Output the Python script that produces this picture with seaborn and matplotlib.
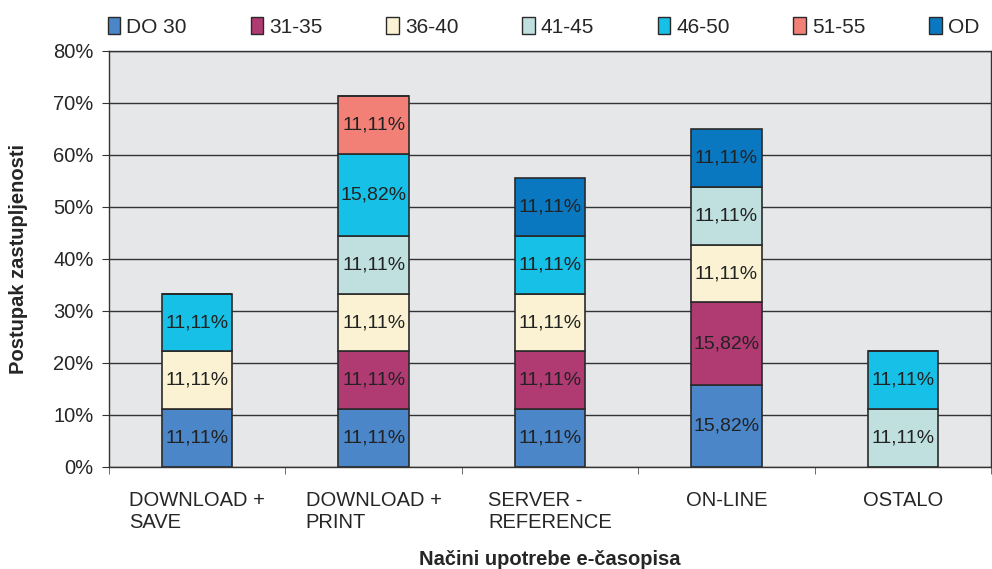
import pandas as pd
import matplotlib
matplotlib.use("Agg")
import matplotlib.pyplot as plt
from matplotlib.patches import Patch
from matplotlib.ticker import FuncFormatter, FixedLocator
import seaborn as sns

categories = ['DOWNLOAD +\nSAVE', 'DOWNLOAD +\nPRINT', 'SERVER -\nREFERENCE', 'ON-LINE', 'OSTALO']
groups = ['DO 30', '31-35', '36-40', '41-45', '46-50', '51-55', 'OD']
colors = ['#4a86c8', '#b03a72', '#faf2d2', '#c0e0e0', '#16c0e6', '#f28076', '#0a78c0']

# percentage per category, one list per age group (0 = no bar segment)
do30 = [11.11, 11.11, 11.11, 15.82, 0]
g31_35 = [0, 11.11, 11.11, 15.82, 0]
g36_40 = [11.11, 11.11, 11.11, 11.11, 0]
g41_45 = [0, 11.11, 0, 11.11, 11.11]
g46_50 = [11.11, 15.82, 11.11, 0, 11.11]
g51_55 = [0, 11.11, 0, 0, 0]
od = [0, 0, 11.11, 11.11, 0]

series = [do30, g31_35, g36_40, g41_45, g46_50, g51_55, od]

rows = []
for i, cat in enumerate(categories):
    for g, vals in zip(groups, series):
        rows.append({'cat': cat, 'group': g, 'val': vals[i]})
df = pd.DataFrame(rows)

sns.set_style('white')
plt.rcParams['font.family'] = ['Liberation Sans', 'DejaVu Sans']

fig = plt.figure(figsize=(9.92, 5.69), dpi=100)
ax = fig.add_axes([109 / 992, 1 - 467 / 569, 882 / 992, 416 / 569])
ax.set_facecolor('#e6e7e9')

# histplot stacks the first hue level on top, so reverse the order
sns.histplot(data=df, x='cat', hue='group', weights='val', hue_order=groups[::-1],
             multiple='stack', discrete=True, shrink=0.4,
             palette=dict(zip(groups, colors)), alpha=1,
             edgecolor='#2a2a2a', linewidth=1.2, legend=False, ax=ax)

for p in ax.patches:
    h = p.get_height()
    if h > 0.01:
        ax.text(p.get_x() + p.get_width() / 2, p.get_y() + h / 2,
                f'{h:.2f}'.replace('.', ',') + '%', ha='center', va='center',
                fontsize=14, color='#222222')

ax.set_ylim(0, 80)
ax.set_xlim(-0.5, 4.5)
ax.set_yticks(range(0, 81, 10))
ax.yaxis.set_major_formatter(FuncFormatter(lambda v, _: f'{v:.0f}%'))
ax.yaxis.grid(True, color='#333333', lw=1)
ax.set_axisbelow(True)

ax.set_xticks(range(len(categories)))
ax.set_xticklabels(categories, multialignment='left')
ax.xaxis.set_minor_locator(FixedLocator([x - 0.5 for x in range(len(categories) + 1)]))
ax.tick_params(axis='x', which='major', length=0, pad=17, labelsize=14.5)
ax.tick_params(axis='x', which='minor', length=5, color='#555555', direction='out')
ax.tick_params(axis='y', length=5, color='#333333', direction='out', labelsize=14.5, pad=6)
ax.xaxis.set_ticks_position('bottom')
ax.yaxis.set_ticks_position('left')

for s in ax.spines.values():
    s.set_color('#333333')
    s.set_linewidth(1)

ax.set_xlabel('Načini upotrebe e-časopisa', fontsize=14.5, fontweight='bold', labelpad=13)
ax.set_ylabel('Postupak zastupljenosti', fontsize=14.5, fontweight='bold', labelpad=18)

handles = [Patch(facecolor=c, edgecolor='#2a2a2a', lw=1) for c in colors]
fig.legend(handles, groups, loc='center left', bbox_to_anchor=(89 / 992, 1 - 27 / 569),
           ncol=7, frameon=False, fontsize=15, handlelength=0.6, handleheight=0.9,
           handletextpad=0.3, columnspacing=3.05)

fig.savefig('out.png', dpi=100)
